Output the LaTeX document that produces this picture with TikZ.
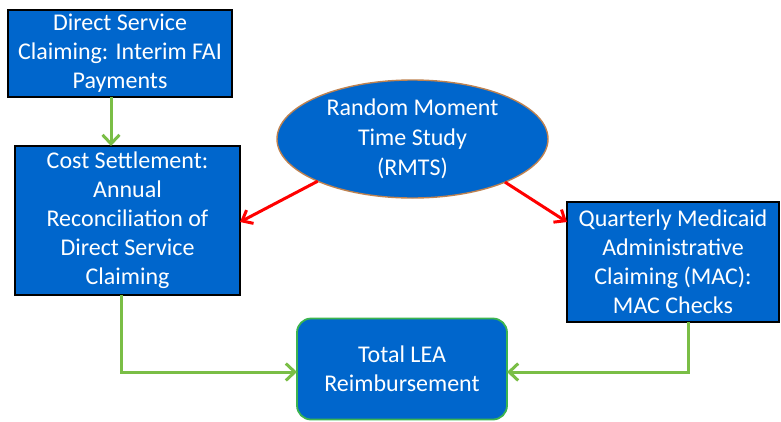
\documentclass[tikz,border=0pt]{standalone}
\usepackage{fontspec}
\setmainfont{Carlito}
\usetikzlibrary{arrows.meta,shapes.geometric}
\definecolor{boxblue}{RGB}{0,102,204}
\definecolor{ringbrown}{RGB}{190,130,80}
\definecolor{linkgreen}{RGB}{122,190,70}
\definecolor{edgegreen}{RGB}{60,180,80}
\tikzset{
  stepbox/.style={draw=black,line width=1.8pt,fill=boxblue,text=white,align=center,
    inner sep=0pt,outer sep=0pt,font=\fontsize{24}{29}\selectfont},
  studyoval/.style={ellipse,draw=ringbrown,line width=1.4pt,fill=boxblue,text=white,
    align=center,inner sep=0pt,outer sep=0pt,font=\fontsize{24}{30}\selectfont},
  totalbox/.style={stepbox,draw=edgegreen,rounded corners=14pt},
  garrow/.style={draw=linkgreen,line width=3pt,-{Straight Barb[length=9pt,width=17pt,line width=3pt]}},
  rarrow/.style={draw=red,line width=3pt,-{Straight Barb[length=9pt,width=15pt,line width=3pt]}}
}
\begin{document}
\begin{tikzpicture}[x=1pt,y=-1pt]
\useasboundingbox (0,0) rectangle (781,421);
\node (DS) [stepbox,minimum width=224pt,minimum height=87pt] at (120,53.5) {Direct Service\\Claiming: Interim FAI\\Payments};
\node (CS) [stepbox,minimum width=225pt,minimum height=149pt] at (127.5,220.5) {Cost Settlement:\\Annual\\Reconciliation of\\Direct Service\\Claiming};
\node (RMTS) [studyoval,minimum width=271pt,minimum height=118pt] at (412.5,139) {Random Moment\\Time Study\\(RMTS)};
\node (MAC) [stepbox,minimum width=212pt,minimum height=120pt] at (673,262) {Quarterly Medicaid\\Administrative\\Claiming (MAC):\\MAC Checks};
\node (LEA) [totalbox,minimum width=210pt,minimum height=101pt] at (402,369) {Total LEA\\Reimbursement};
\path[garrow] ([xshift=-9pt]DS.south) -- ([xshift=-16.5pt]CS.north);
\path[rarrow] (RMTS.204) -- ([yshift=-1.5pt]CS.east);
\path[rarrow] (RMTS.335) -- ([yshift=40pt]MAC.west);
\path[garrow] ([xshift=-6.5pt]CS.south) |- ([yshift=-3pt]LEA.west);
\path[garrow] ([xshift=15pt]MAC.south) |- ([yshift=-3pt]LEA.east);
\end{tikzpicture}
\end{document}
